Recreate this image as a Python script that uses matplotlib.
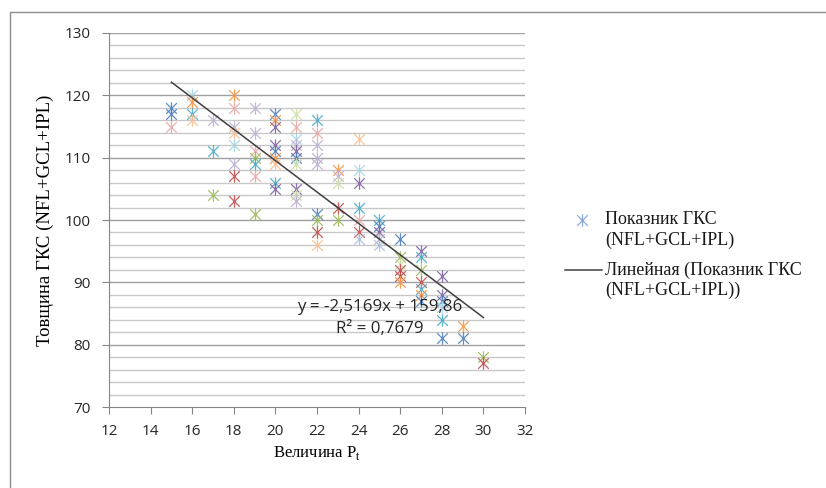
import numpy as np
import matplotlib.pyplot as plt
from matplotlib.lines import Line2D
from matplotlib.patches import Rectangle
from matplotlib.path import Path

# values (x = P_t, y = thickness)
x_vals = [15, 15, 15,
          16, 16, 16, 16,
          17, 17, 17,
          18, 18, 18, 18, 18, 18, 18, 18,
          19, 19, 19, 19, 19, 19, 19,
          20, 20, 20, 20, 20, 20, 20, 20, 20,
          21, 21, 21, 21, 21, 21, 21, 21, 21, 21,
          22, 22, 22, 22, 22, 22, 22, 22, 22,
          23, 23, 23, 23, 23,
          24, 24, 24, 24, 24, 24, 24,
          25, 25, 25, 25, 25,
          26, 26, 26, 26, 26, 26,
          27, 27, 27, 27, 27, 27, 27,
          28, 28, 28, 28, 28, 28,
          29, 29,
          30, 30]
y_vals = [118, 117, 115,
          120, 119, 117, 116,
          116, 111, 104,
          120, 118, 115, 114, 112, 109, 107, 103,
          118, 114, 111, 110, 109, 107, 101,
          117, 116, 115, 112, 111, 110, 109, 106, 105,
          117, 115, 113, 112, 111, 110, 109, 105, 104, 103,
          116, 114, 112, 110, 109, 101, 100, 98, 96,
          108, 107, 106, 102, 100,
          113, 108, 106, 102, 100, 98, 97,
          100, 99, 98, 97, 96,
          97, 94, 93, 92, 91, 90,
          95, 94, 92, 90, 89, 88, 87,
          91, 88, 87, 86, 84, 81,
          83, 81,
          78, 77]

slope = -2.5169
intercept = 159.86

legend_lines = ['Показник ГКС', '(NFL+GCL+IPL)',
                'Линейная (Показник ГКС', '(NFL+GCL+IPL))']

# excel-like "vary colors by point" palette
pal = {'b': '#4F81BD', 'r': '#C0504D', 'g': '#9BBB59', 'p': '#8064A2',
       't': '#4BACC6', 'o': '#F79646',
       'lb': '#A7C0DE', 'lr': '#E6A9A7', 'lg': '#CDDDAC', 'lp': '#BFB1D0',
       'lt': '#A5D5E2', 'lo': '#FAC090'}
codes = ['b', 'b', 'lr',
         'lt', 'o', 't', 'lo',
         'lp', 't', 'g',
         'o', 'lr', 'lp', 'lo', 'lt', 'lp', 'r', 'r',
         'lp', 'lp', 'lr', 'g', 't', 'lr', 'g',
         'b', 'o', 'p', 'p', 'b', 'o', 'lo', 't', 'p',
         'lg', 'lr', 'lt', 'lp', 'p', 'b', 'lg', 'p', 'lg', 'lp',
         't', 'lr', 'lp', 'lp', 'lp', 'b', 'g', 'r', 'lo',
         'o', 'lp', 'lg', 'r', 'g',
         'lo', 'lt', 'p', 't', 'lr', 'r', 'lb',
         't', 'b', 'p', 'lp', 'lb',
         'b', 'g', 'lg', 'r', 'r', 'o',
         'p', 't', 'g', 'r', 't', 'o', 'b',
         'p', 'p', 'b', 'lt', 't', 'b',
         'o', 'b',
         'g', 'r']
colors = [pal[c] for c in codes]

# excel star marker: an X with a vertical bar
star = Path([(0, -1), (0, 1), (-0.85, -0.85), (0.85, 0.85), (-0.85, 0.85), (0.85, -0.85)],
            [Path.MOVETO, Path.LINETO] * 3)

W, H = 826, 488
fig = plt.figure(figsize=(W / 100, H / 100), dpi=100)
ax = fig.add_axes([109/W, 1 - 407/H, (525 - 109)/W, (407 - 33)/H])

# chart border
fig.add_artist(Rectangle((10/W, -0.1), 1.2, 1.1 - 12/H, transform=fig.transFigure,
                         fill=False, edgecolor='#8c8c8c', lw=1.0))

for xv, yv, c in zip(x_vals, y_vals, colors):
    ax.plot(xv, yv, linestyle='none', marker=star, markersize=9,
            markeredgewidth=0.9, color=c, markerfacecolor='none', alpha=0.9, zorder=3)

xs = np.array([min(x_vals), max(x_vals)])
ax.plot(xs, slope * xs + intercept, color='#404040', lw=1.1, zorder=4)

ax.text(25.0, 86, 'y = -2,5169x + 159,86', ha='center', va='center',
        fontsize=12.2, family='Open Sans', color='#262626', zorder=5)
ax.text(25.0, 82.5, 'R² = 0,7679', ha='center', va='center',
        fontsize=12.2, family='Open Sans', color='#262626', zorder=5)

ax.set_xlim(12, 32)
ax.set_ylim(70, 130)
ax.set_xticks(np.arange(12, 33, 2))
ax.set_yticks(np.arange(70, 131, 10))
for yv in np.arange(72, 130, 2):
    c = '#a0a0a0' if yv % 10 == 0 else '#c8c8c8'
    ax.axhline(yv, color=c, lw=1.0, zorder=1)
ax.axhline(130, color='#a0a0a0', lw=1.0, zorder=1)

for s in ['top', 'right']:
    ax.spines[s].set_visible(False)
for s in ['left', 'bottom']:
    ax.spines[s].set_color('#868686')
ax.tick_params(axis='both', colors='#868686', length=5, labelcolor='#262626',
               labelsize=11)
ax.tick_params(axis='y', pad=8)
ax.tick_params(axis='x', pad=7)
for lab in ax.get_xticklabels() + ax.get_yticklabels():
    lab.set_family('Open Sans')

ax.set_xlabel('Величина P$_\\mathregular{t}$', family='Liberation Serif',
              fontsize=12, labelpad=4)
ax.set_ylabel('Товщина ГКС (NFL+GCL+IPL)', family='Liberation Serif',
              fontsize=13.5, labelpad=8)

# legend, excel style: handle aligned with the first text line
fig.add_artist(Line2D([581.5/W], [1 - 220/H], transform=fig.transFigure,
                      linestyle='none', marker=star, markersize=9,
                      markeredgewidth=0.9, color='#8EA9DB', markerfacecolor='none'))
fig.add_artist(Line2D([565/W, 602/W], [1 - 270/H, 1 - 270/H],
                      transform=fig.transFigure, color='#404040', lw=1.1))
for txt, py in zip(legend_lines, [220, 240, 270, 290]):
    fig.text(605/W, 1 - py/H, txt, ha='left', va='center',
             family='Liberation Serif', fontsize=13, color='#1a1a1a')

fig.savefig('out.png', dpi=100)
